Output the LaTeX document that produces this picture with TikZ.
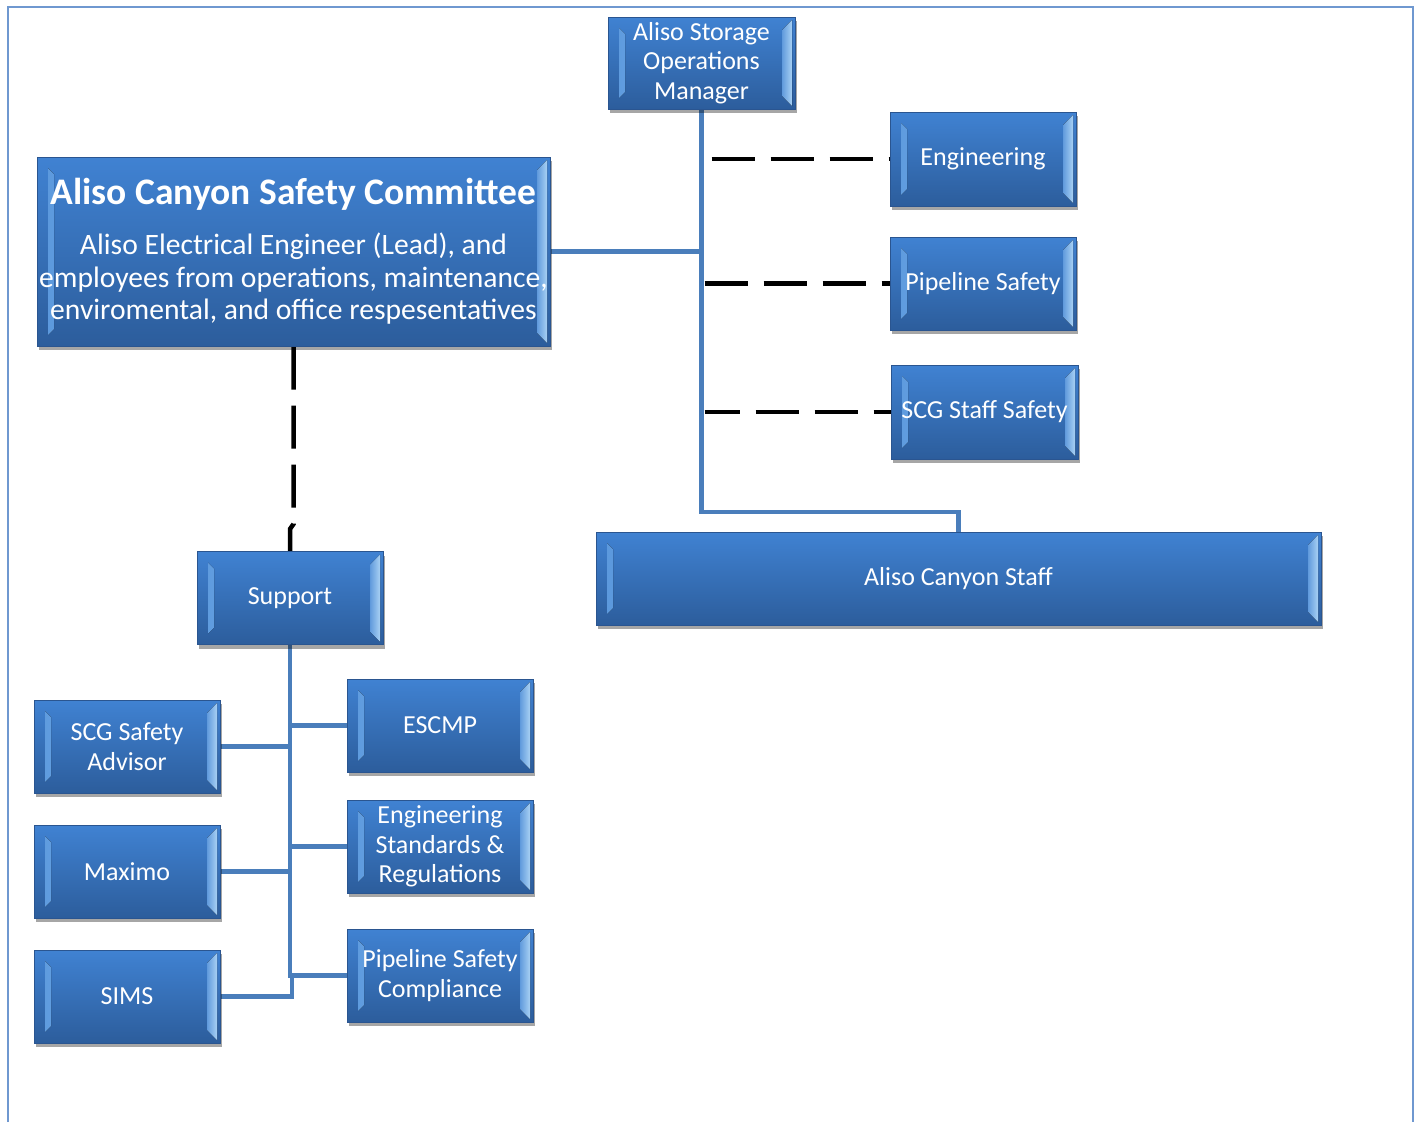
\documentclass[tikz,border=0pt]{standalone}
\usepackage{fontspec}
\setmainfont{Carlito}
\usetikzlibrary{shadows,calc,backgrounds}
\definecolor{boxtop}{HTML}{4082D2}
\definecolor{boxbot}{HTML}{2C5D9C}
\definecolor{boxedge}{HTML}{2A5590}
\definecolor{bevL}{HTML}{9ACCF6}
\definecolor{bevR}{HTML}{C2E4FC}
\definecolor{linkblue}{HTML}{4A7EBB}
\definecolor{framec}{HTML}{6F98D0}
\tikzset{
  bbox/.style={draw=boxedge, line width=1pt, top color=boxtop, bottom color=boxbot,
    text=white, align=center, inner sep=0pt,
    font=\fontsize{26}{29.5}\selectfont,
    drop shadow={shadow xshift=1.5pt, shadow yshift=-4pt, opacity=0.35, fill=black},
    path picture={
      \fill[left color=boxtop!70!bevL, right color=bevL]
        ($(path picture bounding box.north west)+(11pt,-11pt)$) --
        ($(path picture bounding box.north west)+(17pt,-17pt)$) --
        ($(path picture bounding box.south west)+(17pt,17pt)$) --
        ($(path picture bounding box.south west)+(11pt,11pt)$) -- cycle;
      \fill[left color=boxtop!75!bevR, right color=bevR!80!boxtop]
        ($(path picture bounding box.north east)+(-13pt,-13pt)$) --
        ($(path picture bounding box.north east)+(-3pt,-3pt)$) --
        ($(path picture bounding box.south east)+(-3pt,3pt)$) --
        ($(path picture bounding box.south east)+(-13pt,13pt)$) -- cycle;
    }},
  link/.style={draw=linkblue, line width=4.5pt},
  dashln/.style={draw=black, line width=4.5pt, dash pattern=on 43pt off 16pt},
}
\begin{document}
\begin{tikzpicture}[x=1pt,y=-1pt]
\useasboundingbox (0,0) rectangle (1416,1122);
\draw[framec, line width=2pt] (8,1122) -- (8,7) -- (1413,7) -- (1413,1122);

\node[bbox, minimum width=187pt, minimum height=92pt] (mgr) at (701.5,63) {Aliso Storage\\Operations\\Manager};
\node[bbox, minimum width=513pt, minimum height=189pt, font=\fontsize{29.6}{32.7}\selectfont] (comm) at (293.5,251.5)
  {{\fontsize{37.5}{40}\selectfont\bfseries Aliso Canyon Safety Committee}\\[17pt]
   Aliso Electrical Engineer (Lead), and\\
   employees from operations, maintenance,\\
   enviromental, and office respesentatives};
\node[bbox, minimum width=186pt, minimum height=94pt] (eng) at (983,159) {Engineering};
\node[bbox, minimum width=186pt, minimum height=93pt] (pips) at (983,283.5) {Pipeline Safety};
\node[bbox, minimum width=187pt, minimum height=94pt] (scgss) at (984.5,412) {SCG Staff Safety};
\node[bbox, minimum width=725pt, minimum height=93pt] (staff) at (958.5,578.5) {Aliso Canyon Staff};
\node[bbox, minimum width=186pt, minimum height=93pt] (support) at (290,598) {Support};
\node[bbox, minimum width=186pt, minimum height=93pt] (adv) at (127,746.5) {SCG Safety\\Advisor};
\node[bbox, minimum width=186pt, minimum height=93pt] (maximo) at (127,871.5) {Maximo};
\node[bbox, minimum width=186pt, minimum height=93pt] (sims) at (127,996.5) {SIMS};
\node[bbox, minimum width=186pt, minimum height=93pt] (escmp) at (440,725.5) {ESCMP};
\node[bbox, minimum width=186pt, minimum height=93pt] (engstd) at (440,846.5) {Engineering\\Standards \&\\Regulations};
\node[bbox, minimum width=186pt, minimum height=93pt] (psc) at (440,975.5) {Pipeline Safety\\Compliance};

\begin{scope}[on background layer]
% blue solid connectors
\draw[link] (mgr.south) -- (mgr.south |- 0,512) -| (staff.north);
\draw[link] (comm.east) -- (comm.east -| mgr.south);
\draw[link] (support.south) -- (support.south |- psc.west) -- (psc.west);
\draw[link] (support.south |- escmp.west) -- (escmp.west);
\draw[link] (support.south |- engstd.west) -- (engstd.west);
\draw[link] (adv.east) -- (adv.east -| support.south);
\draw[link] (maximo.east) -- (maximo.east -| support.south);
\draw[link] (sims.east) -- (292,996.5) -- (292,975.5);
% dashed connectors
\draw[dashln] ($(eng.west -| mgr.south)+(10,0)$) -- (eng.west);
\draw[dashln] ($(pips.west -| mgr.south)+(3,0)$) -- (pips.west);
\draw[dashln, dash phase=8pt] ($(scgss.west -| mgr.south)+(3,0)$) -- (scgss.west);
\draw[dashln] (comm.south) -- (comm.south |- 0,524) -- (support.north |- 0,529) -- (support.north);
\end{scope}
\end{tikzpicture}
\end{document}
